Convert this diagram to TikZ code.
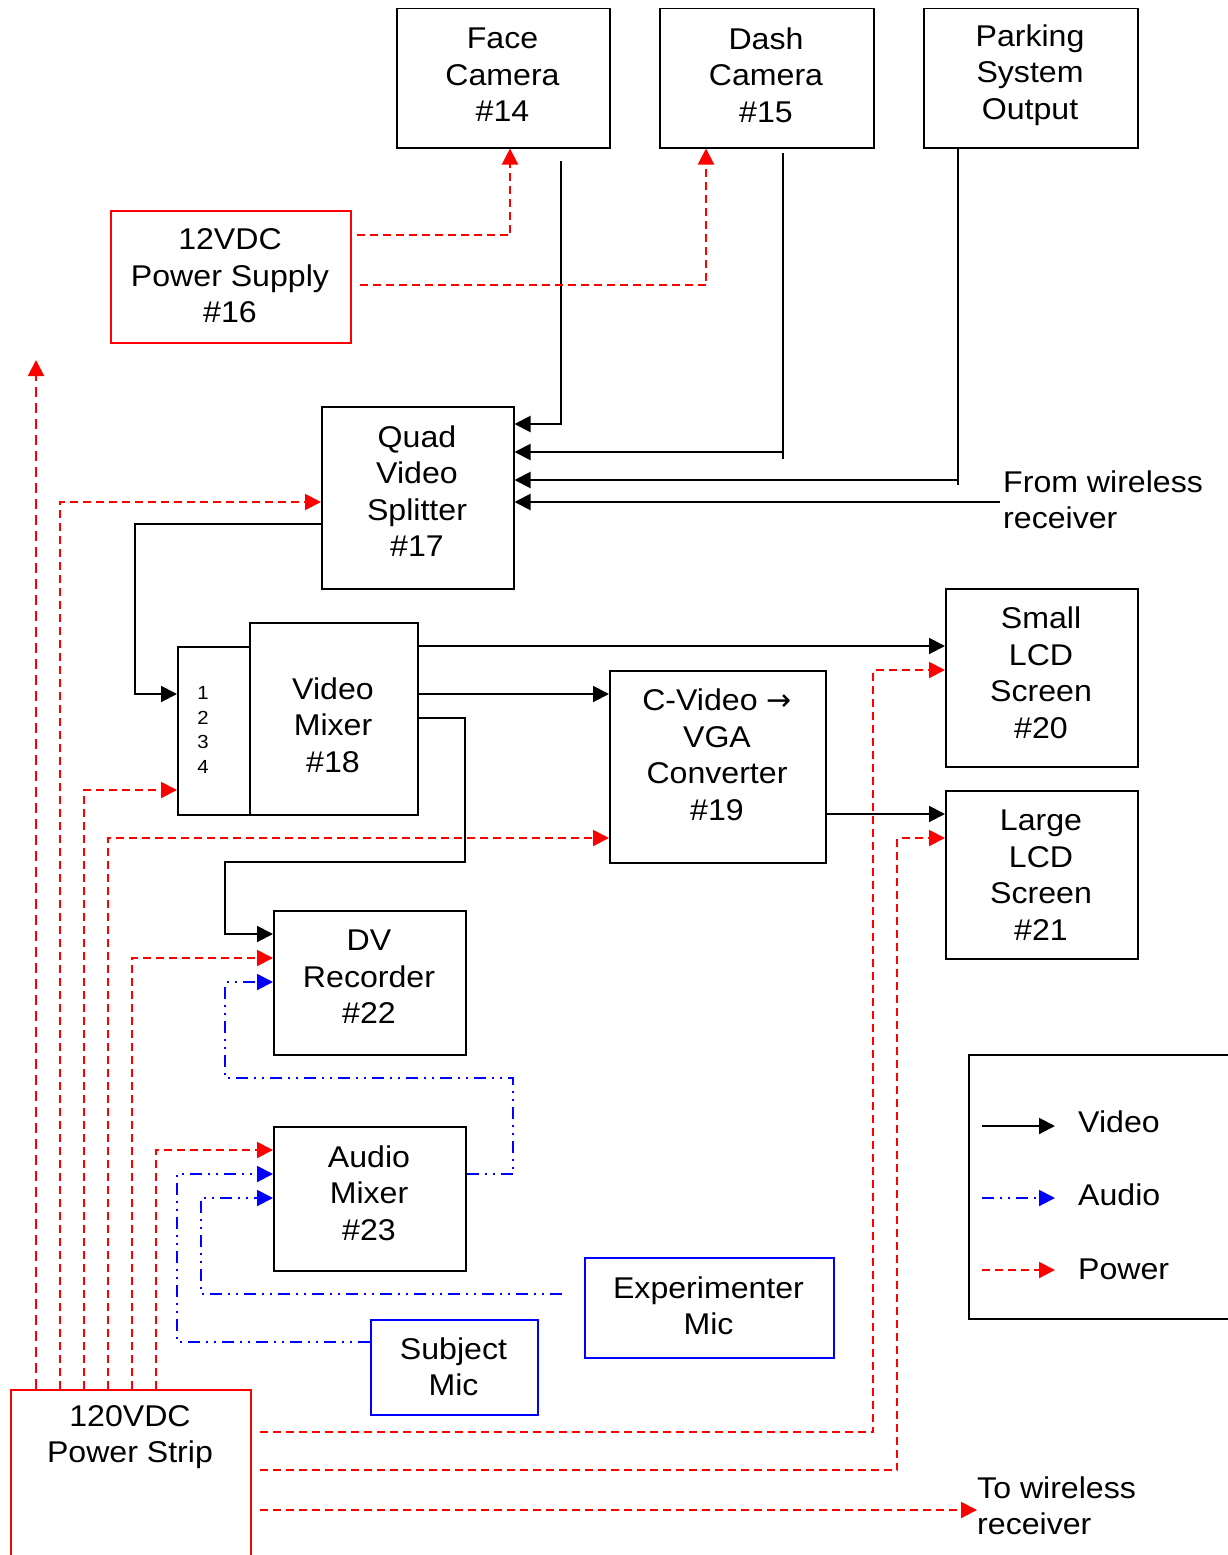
\documentclass[tikz,border=0pt]{standalone}
\usepackage{fontspec}
\setmainfont{Liberation Sans}[FakeStretch=1.07]
\newfontfamily\arrfont{DejaVu Sans}
\usetikzlibrary{arrows.meta,calc}
\begin{document}
\begin{tikzpicture}[x=1pt,y=-1pt,
  blk/.style={draw=black, line width=1.5pt, inner sep=0pt, anchor=north west},
  redbox/.style={draw=red, line width=1.5pt, inner sep=0pt, anchor=north west},
  bluebox/.style={draw=blue, line width=1.5pt, inner sep=0pt, anchor=north west},
  txt/.style={font=\fontsize{30}{36.5}\selectfont, align=center, inner sep=0pt},
  small/.style={font=\fontsize{19}{24.5}\selectfont, align=center, inner sep=0pt},
  tip/.style={-{Triangle[length=16pt,width=16pt]}},
  plain/.style={line width=2pt},
  video/.style={line width=2pt, tip},
  power/.style={red, line width=2pt, dash pattern=on 8pt off 5pt, tip},
  audio/.style={blue, line width=2pt, dash pattern=on 12pt off 6pt on 2pt off 6pt on 2pt off 6pt, tip}]
\useasboundingbox (0,0) rectangle (1228,1555);

% boxes
\node[blk, minimum width=213pt, minimum height=139pt] (face) at (396,8) {};
\node[txt] at (502.5,75) {Face\\Camera\\\#14};
\node[blk, minimum width=214pt, minimum height=139pt] (dash) at (659,8) {};
\node[txt] at (766,75) {Dash\\Camera\\\#15};
\node[blk, minimum width=214pt, minimum height=139pt] (park) at (923,8) {};
\node[txt] at (1030,75) {Parking\\System\\Output};
\node[redbox, minimum width=240pt, minimum height=132pt] (psu) at (110,210) {};
\node[txt] at (230,276) {12VDC\\Power Supply\\\#16};
\node[blk, minimum width=192pt, minimum height=182pt] (quad) at (321,406) {};
\node[txt] at (417,491) {Quad\\Video\\Splitter\\\#17};
\node[blk, minimum width=72pt, minimum height=168pt] (mixin) at (177,646) {};
\node[small] at (203,730) {1\\2\\3\\4};
\node[blk, minimum width=168pt, minimum height=192pt] (mixer) at (249,622) {};
\node[txt] at (333,725) {Video\\Mixer\\\#18};
\node[blk, minimum width=216pt, minimum height=192pt] (conv) at (609,670) {};
\node[txt] at (717,755) {C-Video {\arrfont\fontsize{30}{36.5}\selectfont →}\\VGA\\Converter\\\#19};
\node[blk, minimum width=192pt, minimum height=178pt] (small) at (945,588) {};
\node[txt] at (1041,673) {Small\\LCD\\Screen\\\#20};
\node[blk, minimum width=192pt, minimum height=168pt] (large) at (945,790) {};
\node[txt] at (1041,875) {Large\\LCD\\Screen\\\#21};
\node[blk, minimum width=192pt, minimum height=144pt] (dv) at (273,910) {};
\node[txt] at (369,977) {DV\\Recorder\\\#22};
\node[blk, minimum width=192pt, minimum height=144pt] (amix) at (273,1126) {};
\node[txt] at (369,1193) {Audio\\Mixer\\\#23};
\node[bluebox, minimum width=249pt, minimum height=100pt] (emic) at (584,1257) {};
\node[txt] at (708.5,1306) {Experimenter\\Mic};
\node[bluebox, minimum width=167pt, minimum height=95pt] (smic) at (370,1319) {};
\node[txt] at (453.5,1367) {Subject\\Mic};
\node[redbox, minimum width=240pt, minimum height=220pt] (strip) at (10,1389) {};
\node[txt] at (130,1437) {120VDC\\Power Strip};
\node[txt, anchor=west, align=left] (fromw) at (1003,500) {From wireless\\receiver};
\node[txt, anchor=west, align=left] (tow) at (977,1506) {To wireless\\receiver};

% legend
\node[blk, minimum width=290pt, minimum height=264pt] (legend) at (968,1054) {};
\node[txt, anchor=west] (lv) at (1078,1122) {Video};
\node[txt, anchor=west] (la) at (1078,1195) {Audio};
\node[txt, anchor=west] (lp) at (1078,1269) {Power};
\coordinate (lv1) at (982,1126); \coordinate (lv2) at (1055,1126);
\coordinate (la1) at (982,1198); \coordinate (la2) at (1055,1198);
\coordinate (lp1) at (982,1270); \coordinate (lp2) at (1055,1270);
\draw[video] (lv1) -- (lv2);
\draw[audio] (la1) -- (la2);
\draw[power] (lp1) -- (lp2);

% video connectors
\coordinate (fsrc) at (561,161);
\draw[video] (fsrc) |- (quad.east |- 0,424);
\coordinate (dsrc) at (783,153); \coordinate (dend) at (783,459); \coordinate (dknee) at (783,452);
\draw[plain] (dsrc) -- (dend);
\draw[video] (dknee) -- (quad.east |- dknee);
\coordinate (pend) at (958,485); \coordinate (pknee) at (958,480);
\draw[plain] (park.south -| pend) -- (pend);
\draw[video] (pknee) -- (quad.east |- pknee);
\coordinate (wl) at (1000,502);
\draw[video] (wl) -- (quad.east |- wl);
\draw[video] (quad.west |- 0,524) -| (135,694) -- (mixin.west |- 0,694);
\draw[video] (mixer.east |- 0,646) -- (small.west |- 0,646);
\draw[video] (mixer.east |- 0,694) -- (conv.west |- 0,694);
\draw[video] (mixer.east |- 0,718) -| (465,862) -| (225,934) -- (dv.west |- 0,934);
\draw[video] (conv.east |- 0,814) -- (large.west |- 0,814);

% power connectors
\draw[power] ([xshift=5pt]psu.east |- 0,235) -| (face.south -| 510,0);
\draw[power] ([xshift=8pt]psu.east |- 0,285) -| (dash.south -| 706,0);
\coordinate (up) at (36,360);
\draw[power, dash pattern=on 10pt off 6pt] (strip.north -| up) -- (up);
\draw[power] (strip.north -| 60,0) |- (quad.west |- 0,502);
\draw[power] (strip.north -| 84,0) |- (mixin.west |- 0,790);
\draw[power] (strip.north -| 108,0) |- (conv.west |- 0,838);
\draw[power] (strip.north -| 132,0) |- (dv.west |- 0,958);
\draw[power] (strip.north -| 156,0) |- (amix.west |- 0,1150);
\draw[power] ([xshift=8pt]strip.east |- 0,1432) -| (873,670) -- (small.west |- 0,670);
\draw[power] ([xshift=8pt]strip.east |- 0,1470) -| (897,838) -- (large.west |- 0,838);
\draw[power] ([xshift=8pt]strip.east |- 0,1510) -- (tow.west |- 0,1510);

% audio connectors
\draw[audio] (amix.east |- 0,1174) -| (513,1078) -| (225,982) -- (dv.west |- 0,982);
\draw[audio] (smic.west |- 0,1342) -| (177,1174) -- (amix.west |- 0,1174);
\draw[audio] ([xshift=-22pt]emic.west |- 0,1294) -| (201,1198) -- (amix.west |- 0,1198);
\end{tikzpicture}
\end{document}
